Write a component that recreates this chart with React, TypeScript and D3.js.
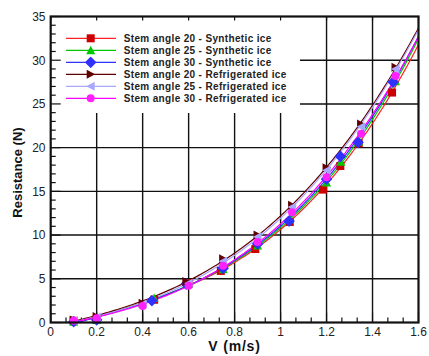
import React from "react";
import * as d3 from "d3";

// Towing speed (m/s) and measured resistance (N) for each test series
const s20SynV = [0.1, 0.2, 0.45, 0.6, 0.74, 0.89, 1.04, 1.185, 1.26, 1.34, 1.485];
const s20SynR = [0.2, 0.5, 2.6, 4.5, 5.9, 8.4, 11.5, 15.2, 17.9, 20.5, 26.3];

const s25SynV = [0.1, 0.2, 0.45, 0.6, 0.75, 0.9, 1.04, 1.2, 1.262, 1.34, 1.5];
const s25SynR = [0.1, 0.3, 2.8, 4.4, 6.1, 8.8, 11.8, 16.0, 18.4, 20.7, 27.6];

const s30SynV = [0.1, 0.2, 0.44, 0.59, 0.75, 0.9, 1.037, 1.2, 1.26, 1.337, 1.49];
const s30SynR = [0.1, 0.3, 2.5, 4.4, 6.2, 9.0, 11.6, 16.4, 19.0, 20.6, 27.5];

const s20RefV = [0.1, 0.2, 0.4, 0.59, 0.75, 0.9, 1.05, 1.2, 1.35, 1.5];
const s20RefR = [0.3, 0.7, 2.2, 4.7, 7.3, 10.0, 13.4, 17.7, 22.7, 29.2];

const s25RefV = [0.1, 0.2, 0.4, 0.6, 0.75, 0.9, 1.05, 1.2, 1.35, 1.5];
const s25RefR = [0.2, 0.6, 2.1, 4.5, 7.0, 9.8, 13.2, 17.4, 22.4, 29.0];

const s30RefV = [0.1, 0.2, 0.4, 0.6, 0.75, 0.9, 1.05, 1.2, 1.35, 1.5];
const s30RefR = [0.2, 0.5, 1.9, 4.2, 6.5, 9.2, 12.6, 16.6, 21.6, 28.2];

const seriesNames = [
  "Stem angle 20 - Synthetic ice",
  "Stem angle 25 - Synthetic ice",
  "Stem angle 30 - Synthetic ice",
  "Stem angle 20 - Refrigerated ice",
  "Stem angle 25 - Refrigerated ice",
  "Stem angle 30 - Refrigerated ice",
];

const xTicks = [0, 0.2, 0.4, 0.6, 0.8, 1, 1.2, 1.4, 1.6];
const yTicks = [0, 5, 10, 15, 20, 25, 30, 35];

type Shape = "square" | "triUp" | "diamond" | "triRight" | "triLeft" | "circle";

const styles: { line: string; fill: string; shape: Shape }[] = [
  { line: "#ff2020", fill: "#cc0000", shape: "square" },
  { line: "#00c800", fill: "#00c800", shape: "triUp" },
  { line: "#3030ff", fill: "#3030ff", shape: "diamond" },
  { line: "#600000", fill: "#600000", shape: "triRight" },
  { line: "#a8a8ff", fill: "#a8a8ff", shape: "triLeft" },
  { line: "#ff00ff", fill: "#ff20ff", shape: "circle" },
];

const seriesV = [s20SynV, s25SynV, s30SynV, s20RefV, s25RefV, s30RefV];
const seriesR = [s20SynR, s25SynR, s30SynR, s20RefR, s25RefR, s30RefR];

// Least-squares polynomial trend of the given degree; returns coefficients c0..cN
function polyFit(xs: number[], ys: number[], deg: number): number[] {
  const m = deg + 1;
  const A: number[][] = Array.from({ length: m }, () => new Array(m + 1).fill(0));
  for (let i = 0; i < xs.length; i++) {
    const pw: number[] = [];
    for (let k = 0; k <= 2 * deg; k++) pw.push(Math.pow(xs[i], k));
    for (let r = 0; r < m; r++) {
      for (let c = 0; c < m; c++) A[r][c] += pw[r + c];
      A[r][m] += pw[r] * ys[i];
    }
  }
  for (let c = 0; c < m; c++) {
    let p = c;
    for (let r = c + 1; r < m; r++) if (Math.abs(A[r][c]) > Math.abs(A[p][c])) p = r;
    [A[c], A[p]] = [A[p], A[c]];
    for (let r = 0; r < m; r++) {
      if (r === c) continue;
      const f = A[r][c] / A[c][c];
      for (let k = c; k <= m; k++) A[r][k] -= f * A[c][k];
    }
  }
  return A.map((row, i) => row[m] / A[i][i]);
}

function Marker({ shape, x, y, fill, size = 8 }: { shape: Shape; x: number; y: number; fill: string; size?: number }) {
  const h = size / 2;
  switch (shape) {
    case "square":
      return <rect x={x - h} y={y - h} width={size} height={size} fill={fill} />;
    case "triUp":
      return <polygon points={`${x},${y - h - 0.5} ${x - h - 0.5},${y + h} ${x + h + 0.5},${y + h}`} fill={fill} />;
    case "diamond":
      return <polygon points={`${x},${y - h - 1} ${x + h + 1},${y} ${x},${y + h + 1} ${x - h - 1},${y}`} fill={fill} stroke={fill} strokeWidth={1.2} strokeLinejoin="round" />;
    case "triRight":
      return <polygon points={`${x + h + 0.5},${y} ${x - h},${y - h - 0.5} ${x - h},${y + h + 0.5}`} fill={fill} />;
    case "triLeft":
      return <polygon points={`${x - h - 0.5},${y} ${x + h},${y - h - 0.5} ${x + h},${y + h + 0.5}`} fill={fill} />;
    default:
      return <circle cx={x} cy={y} r={h} fill={fill} />;
  }
}

export default function App() {
  const W = 429, H = 356;
  const x = d3.scaleLinear().domain([0, 1.6]).range([50.7, 418.5]);
  const y = d3.scaleLinear().domain([0, 35]).range([322.5, 16.5]);
  const [x0, x1] = x.range();
  const [y0, y1] = y.range();

  const legendRight = 300;
  const legendBottom = 113;

  const xMinor = d3.range(0, 1.6 + 1e-9, 0.2 / 3).filter(
    (v) => !xTicks.some((t) => Math.abs(t - v) < 1e-6)
  );
  const yMinor = d3.range(0, 35.0001, 1).filter((v) => v % 5 !== 0);

  const fontFamily = "'Liberation Sans', Arial, sans-serif";

  const line = d3
    .line<[number, number]>()
    .x((d) => x(d[0]))
    .y((d) => y(d[1]));

  const curves = seriesV.map((vs, i) => {
    const coef = polyFit(vs, seriesR[i], 3);
    const pts: [number, number][] = d3
      .range(0.1, 1.6001, 0.01)
      .map((v) => [v, coef.reduce((s, c, k) => s + c * Math.pow(v, k), 0)]);
    return line(pts) || "";
  });

  return (
    <svg
      width={W}
      height={H}
      style={{ position: "absolute", left: 0, top: 0, background: "#fff" }}
      fontFamily={fontFamily}
    >
      <defs>
        <clipPath id="plotClip">
          <rect x={x0} y={y1} width={x1 - x0} height={y0 - y1} />
        </clipPath>
      </defs>
      <rect x={0} y={0} width={W} height={H} fill="#fff" />

      {/* grid */}
      <g stroke="#111" strokeWidth={1.4}>
        {xTicks.slice(1, -1).map((t) => (
          <line key={"gx" + t} x1={x(t)} x2={x(t)} y1={y0} y2={y1} />
        ))}
        {yTicks.slice(1, -1).map((t) => (
          <line key={"gy" + t} x1={x0} x2={x1} y1={y(t)} y2={y(t)} />
        ))}
      </g>

      {/* legend background */}
      <rect x={x0} y={y1} width={legendRight - x0} height={legendBottom - y1} fill="#fff" />

      {/* ticks */}
      <g stroke="#111" strokeWidth={1.2}>
        {yTicks.map((t) => (
          <line key={"ty" + t} x1={x0} x2={x0 + 10} y1={y(t)} y2={y(t)} />
        ))}
        {yMinor.map((t) => (
          <line key={"tym" + t} x1={x0} x2={x0 + 5} y1={y(t)} y2={y(t)} />
        ))}
        {xTicks.map((t) => (
          <line key={"tx" + t} x1={x(t)} x2={x(t)} y1={y0} y2={y0 - 10} />
        ))}
        {xMinor.map((t) => (
          <line key={"txm" + t} x1={x(t)} x2={x(t)} y1={y0} y2={y0 - 5} />
        ))}
        {xTicks.map((t) => (
          <line key={"txt" + t} x1={x(t)} x2={x(t)} y1={y1} y2={y1 + 4} />
        ))}
      </g>

      {/* fitted curves and data markers */}
      <g clipPath="url(#plotClip)">
        {curves.map((d, i) => (
          <path key={"c" + i} d={d} fill="none" stroke={styles[i].line} strokeWidth={1.2} />
        ))}
      </g>
      {seriesV.map((vs, i) => (
        <g key={"m" + i}>
          {vs.map((v, j) => (
            <Marker key={j} shape={styles[i].shape} x={x(v)} y={y(seriesR[i][j])} fill={styles[i].fill} />
          ))}
        </g>
      ))}

      {/* frame */}
      <rect x={x0} y={y1} width={x1 - x0} height={y0 - y1} fill="none" stroke="#111" strokeWidth={2.2} />

      {/* tick labels */}
      <g fontSize={12} fill="#222">
        {xTicks.map((t) => (
          <text key={"lx" + t} x={x(t)} y={336} textAnchor="middle">
            {d3.format("~g")(t)}
          </text>
        ))}
        {yTicks.map((t) => (
          <text key={"ly" + t} x={45.5} y={y(t) + 4.3} textAnchor="end">
            {t}
          </text>
        ))}
      </g>

      {/* axis titles */}
      <text x={234.5} y={351} textAnchor="middle" fontSize={14} fontWeight="bold" fill="#111" letterSpacing={0.8}>
        V (m/s)
      </text>
      <text
        transform={`translate(22, 172.5) rotate(-90)`}
        textAnchor="middle"
        fontSize={13}
        fontWeight="bold"
        fill="#111"
      >
        Resistance (N)
      </text>

      {/* legend */}
      <g>
        {seriesNames.map((name, i) => {
          const ly = 38.3 + i * 12;
          return (
            <g key={"lg" + i}>
              <line x1={66} x2={116} y1={ly} y2={ly} stroke={styles[i].line} strokeWidth={1.2} />
              <Marker shape={styles[i].shape} x={90.7} y={ly} fill={styles[i].fill} />
              <text x={123.7} y={ly + 3.6} fontSize={10} fontWeight="bold" fill="#222" letterSpacing={0.35}>
                {name}
              </text>
            </g>
          );
        })}
      </g>
    </svg>
  );
}
